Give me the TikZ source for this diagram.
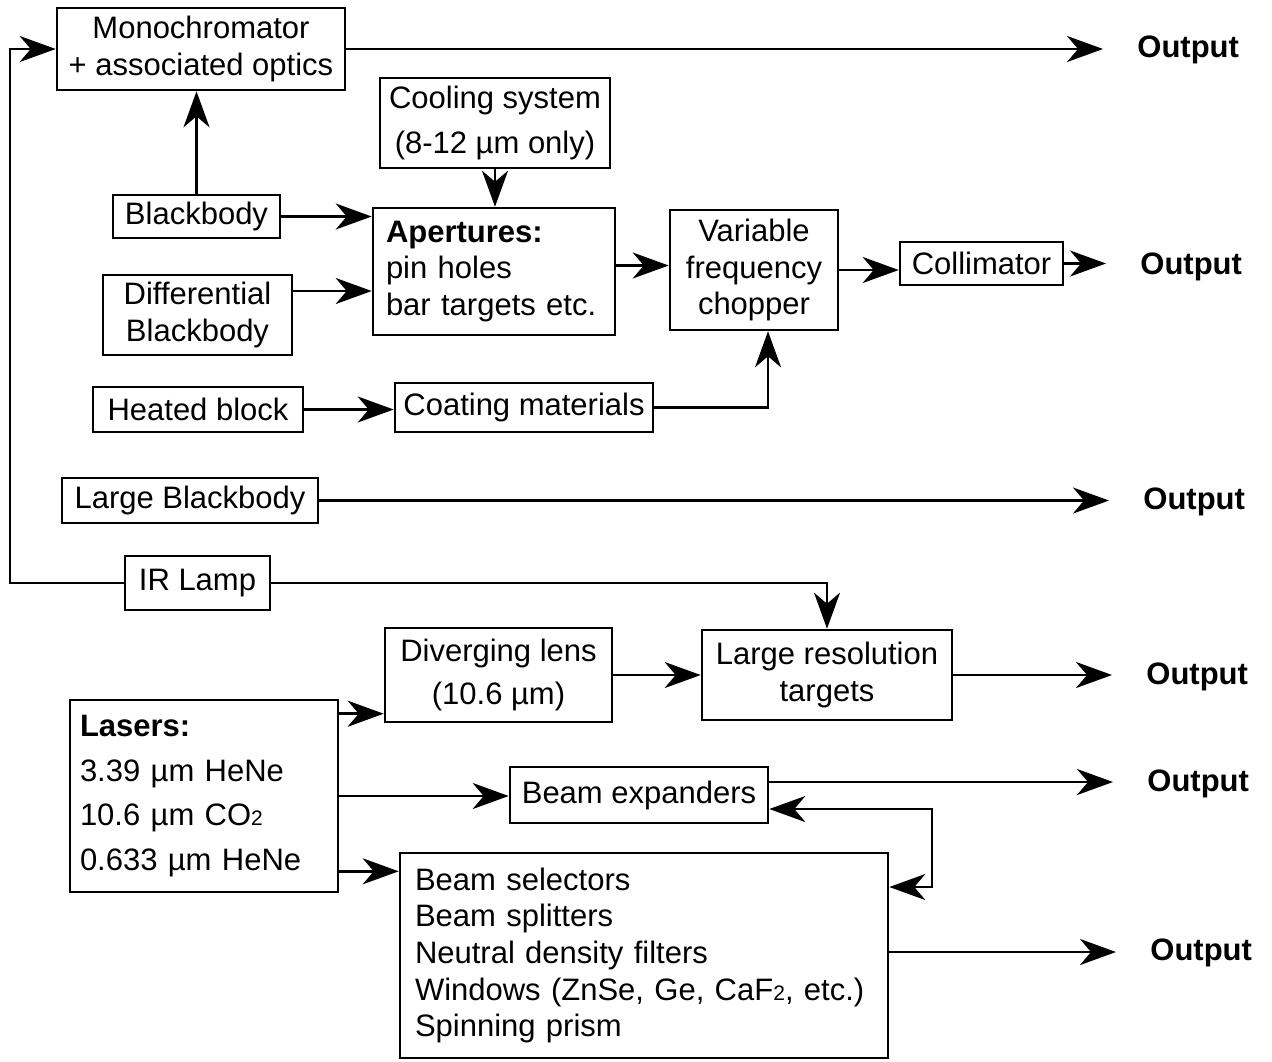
\documentclass[tikz,border=0pt]{standalone}
\usepackage{fontspec}
\setmainfont{Liberation Sans}
\usetikzlibrary{arrows.meta,calc}

\tikzset{
  box/.style={draw,line width=1.3pt,inner sep=0pt,align=center},
  listbox/.style={draw,line width=1.3pt,inner ysep=0pt,align=left},
  outlbl/.style={font=\bfseries,anchor=west,inner sep=0pt},
  flow/.style={line width=1.3pt,-{Stealth[length=18pt,width=13pt,inset=5.5pt]}},
  flowout/.style={flow,shorten >=17pt},
  flowboth/.style={line width=1.3pt,{Stealth[length=18pt,width=13pt,inset=5.5pt]}-{Stealth[length=18pt,width=13pt,inset=5.5pt]}},
}

\begin{document}
\begin{tikzpicture}[x=0.5pt,y=-0.5pt]
    \fontsize{15.5}{18.3}\selectfont
    \useasboundingbox (0,0) rectangle (1272,1061);

    % sources and optics
    \node[box,minimum width=144pt,minimum height=41pt] (mono) at (201,49) {Monochromator\\+ associated optics};
    \node[box,minimum width=115pt,minimum height=45pt] (cool) at (495,123) {Cooling system\\[4pt](8-12 µm only)};
    \node[box,minimum width=83.5pt,minimum height=21.5pt] (bb) at (196.5,216.5) {Blackbody};
    \node[listbox,text width=108pt,inner xsep=6.5pt,minimum height=63.5pt] (apert) at (494,271.5) {\textbf{Apertures:}\\pin holes\\bar targets etc.};
    \node[box,minimum width=94.5pt,minimum height=40pt] (diff) at (197.5,315) {Differential\\Blackbody};
    \node[box,minimum width=84pt,minimum height=60pt] (chop) at (754,270) {Variable\\frequency\\chopper};
    \node[box,minimum width=81.5pt,minimum height=21.5pt] (coll) at (981.5,263.5) {Collimator};
    \node[box,minimum width=105pt,minimum height=22.5pt] (heat) at (198,409.5) {Heated block};
    \node[box,minimum width=129pt,minimum height=24.5pt] (coat) at (524,407.5) {Coating materials};
    \node[box,minimum width=128pt,minimum height=22.5pt] (largebb) at (190,500.5) {Large Blackbody};
    \node[box,minimum width=72.5pt,minimum height=27pt] (irlamp) at (197.5,583) {IR Lamp};
    \node[box,minimum width=113.5pt,minimum height=47pt] (divlens) at (498.5,675) {Diverging lens\\[3.5pt](10.6 µm)};
    \node[box,minimum width=125pt,minimum height=45pt] (lrt) at (827,675) {Large resolution\\targets};
    \node[listbox,text width=124pt,inner xsep=5pt,minimum height=96pt] (lasers) at (204,796) {\textbf{Lasers:}\\[4pt]3.39 µm HeNe\\[4pt]10.6 µm CO{\fontsize{10.5}{12}\selectfont 2}\\[4pt]0.633 µm HeNe};
    \node[box,minimum width=129pt,minimum height=28pt] (beamexp) at (639,795) {Beam expanders};
    \node[listbox,text width=229pt,inner xsep=7.5pt,minimum height=102.5pt] (sel) at (644,955.5) {Beam selectors\\Beam splitters\\Neutral density filters\\Windows (ZnSe, Ge, CaF{\fontsize{10.5}{12}\selectfont 2}, etc.)\\Spinning prism};

    % outputs
    \node[outlbl] (out1) at (1137,50) {Output};
    \node[outlbl] (out2) at (1140,267) {Output};
    \node[outlbl] (out3) at (1143,502) {Output};
    \node[outlbl] (out4) at (1146,677) {Output};
    \node[outlbl] (out5) at (1147,784) {Output};
    \node[outlbl] (out6) at (1150,953) {Output};

    \coordinate (fb) at (10,49);
    \coordinate (bk) at (932,887);

    \draw[flow] (irlamp.west) -| (fb) -- (mono.west);
    \draw[flowout] (mono.east) -- (mono.east -| out1.west);
    \draw[flow] (bb.north) -- (bb.north |- mono.south);
    \draw[flow] (bb.east) -- (bb.east -| apert.west);
    \draw[flow] (cool.south) -- (cool.south |- apert.north);
    \draw[flow] ([yshift=12pt]diff.east) -- ([yshift=12pt]diff.east -| apert.west);
    \draw[flow] ([yshift=3pt]apert.east) -- ([yshift=3pt]apert.east -| chop.west);
    \draw[flow] (chop.east) -- (chop.east -| coll.west);
    \draw[flowout] (coll.east) -- (coll.east -| out2.west);
    \draw[flow] (heat.east) -- (heat.east -| coat.west);
    \draw[flow] (coat.east) -| ([xshift=7pt]chop.south);
    \draw[flowout] (largebb.east) -- (largebb.east -| out3.west);
    \draw[flow] (irlamp.east) -| (lrt.north);

    % lasers
    \draw[flow] ([yshift=-7.5pt]lasers.north east) -- ([yshift=-7.5pt]lasers.north east -| divlens.west);
    \draw[flow] (divlens.east) -- (divlens.east -| lrt.west);
    \draw[flowout] (lrt.east) -- (lrt.east -| out4.west);
    \draw[flow] (lasers.east) -- (lasers.east -| beamexp.west);
    \draw[flowout] ([yshift=6.5pt]beamexp.east) -- ([yshift=6.5pt]beamexp.east -| out5.west);
    \draw[flowboth] ([yshift=-7pt]beamexp.east) -| (bk) -- (bk -| sel.east);
    \draw[flow] ([yshift=11pt]lasers.south east) -- ([yshift=11pt]lasers.south east -| sel.west);
    \draw[flowout] ([yshift=1.75pt]sel.east) -- ([yshift=1.75pt]sel.east -| out6.west);
\end{tikzpicture}
\end{document}
